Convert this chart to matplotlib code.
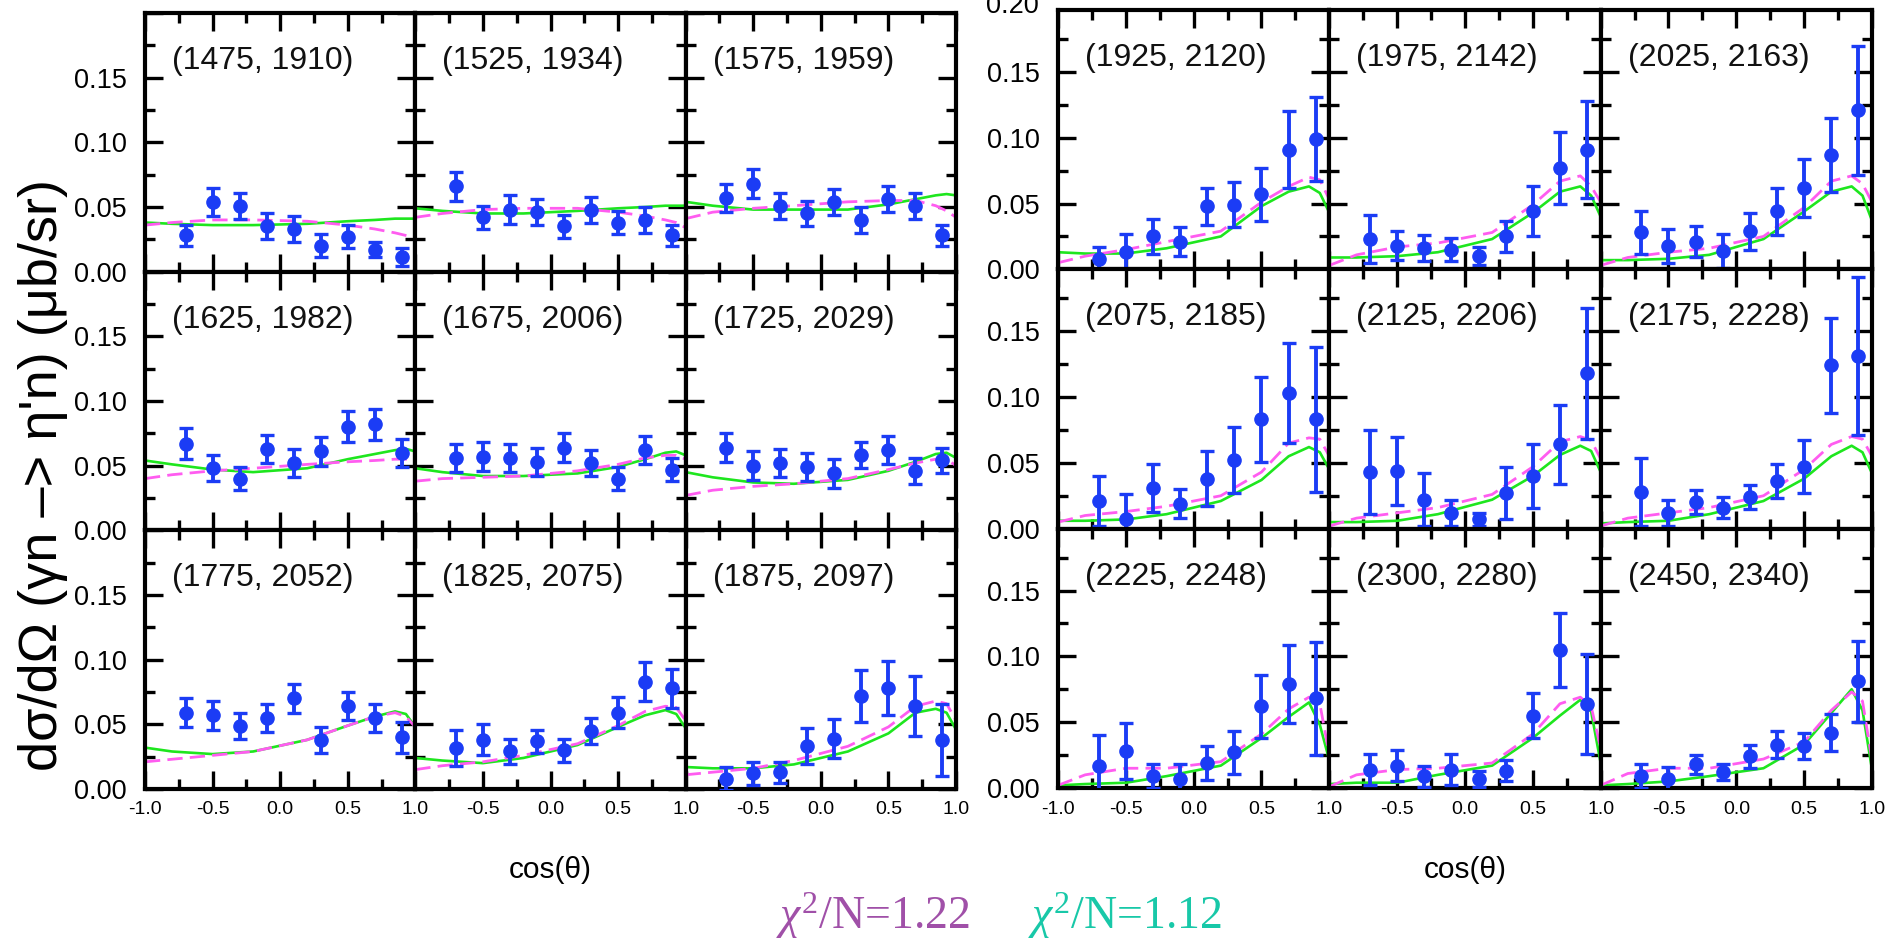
import matplotlib
matplotlib.use('Agg')
import matplotlib.pyplot as plt
from matplotlib import font_manager
from matplotlib.ticker import MultipleLocator, FixedLocator

# ---------------- data ----------------
PANEL_LABELS = [
    "(1475, 1910)", "(1525, 1934)", "(1575, 1959)",
    "(1625, 1982)", "(1675, 2006)", "(1725, 2029)",
    "(1775, 2052)", "(1825, 2075)", "(1875, 2097)",
    "(1925, 2120)", "(1975, 2142)", "(2025, 2163)",
    "(2075, 2185)", "(2125, 2206)", "(2175, 2228)",
    "(2225, 2248)", "(2300, 2280)", "(2450, 2340)",
]

PT_X = [-0.7, -0.5, -0.3, -0.1, 0.1, 0.3, 0.5, 0.7, 0.9]

Y_DATA = [
    [0.028, 0.054, 0.051, 0.035, 0.033, 0.020, 0.027, 0.017, 0.011],
    [0.066, 0.042, 0.048, 0.046, 0.035, 0.048, 0.038, 0.040, 0.028],
    [0.057, 0.068, 0.051, 0.045, 0.054, 0.040, 0.056, 0.051, 0.028],
    [0.067, 0.048, 0.040, 0.063, 0.052, 0.061, 0.080, 0.082, 0.060],
    [0.056, 0.057, 0.056, 0.053, 0.064, 0.052, 0.040, 0.062, 0.047],
    [0.064, 0.050, 0.052, 0.049, 0.044, 0.058, 0.062, 0.046, 0.054],
    [0.059, 0.057, 0.049, 0.055, 0.070, 0.038, 0.064, 0.055, 0.040],
    [0.032, 0.038, 0.029, 0.037, 0.030, 0.045, 0.059, 0.083, 0.078],
    [0.008, 0.012, 0.013, 0.033, 0.039, 0.072, 0.078, 0.064, 0.038],
    [0.008, 0.013, 0.025, 0.021, 0.048, 0.049, 0.057, 0.091, 0.099],
    [0.023, 0.018, 0.016, 0.015, 0.010, 0.025, 0.044, 0.077, 0.091],
    [0.028, 0.018, 0.021, 0.014, 0.029, 0.044, 0.062, 0.087, 0.121],
    [0.021, 0.007, 0.031, 0.019, 0.038, 0.052, 0.083, 0.103, 0.083],
    [0.043, 0.044, 0.022, 0.012, 0.007, 0.027, 0.040, 0.064, 0.118],
    [0.028, 0.012, 0.020, 0.016, 0.024, 0.036, 0.047, 0.124, 0.131],
    [0.017, 0.028, 0.009, 0.007, 0.019, 0.027, 0.062, 0.079, 0.068],
    [0.014, 0.017, 0.009, 0.014, 0.007, 0.013, 0.055, 0.105, 0.064],
    [0.009, 0.007, 0.018, 0.012, 0.024, 0.033, 0.032, 0.042, 0.081],
]

Y_ERR = [
    [0.008, 0.011, 0.010, 0.010, 0.010, 0.009, 0.009, 0.006, 0.007],
    [0.011, 0.009, 0.011, 0.010, 0.009, 0.010, 0.009, 0.010, 0.008],
    [0.011, 0.011, 0.010, 0.010, 0.010, 0.010, 0.010, 0.010, 0.008],
    [0.012, 0.010, 0.009, 0.011, 0.011, 0.011, 0.012, 0.012, 0.011],
    [0.011, 0.011, 0.011, 0.011, 0.011, 0.010, 0.009, 0.011, 0.009],
    [0.011, 0.011, 0.011, 0.011, 0.011, 0.010, 0.011, 0.010, 0.010],
    [0.011, 0.011, 0.010, 0.011, 0.011, 0.010, 0.011, 0.011, 0.012],
    [0.014, 0.012, 0.010, 0.009, 0.009, 0.010, 0.012, 0.015, 0.015],
    [0.009, 0.009, 0.008, 0.014, 0.015, 0.020, 0.021, 0.023, 0.028],
    [0.009, 0.014, 0.013, 0.011, 0.014, 0.017, 0.020, 0.029, 0.032],
    [0.018, 0.011, 0.010, 0.009, 0.007, 0.012, 0.019, 0.027, 0.037],
    [0.016, 0.013, 0.012, 0.013, 0.014, 0.018, 0.022, 0.028, 0.049],
    [0.019, 0.019, 0.018, 0.011, 0.021, 0.025, 0.032, 0.038, 0.055],
    [0.032, 0.026, 0.020, 0.010, 0.005, 0.020, 0.024, 0.030, 0.050],
    [0.026, 0.010, 0.009, 0.008, 0.009, 0.013, 0.020, 0.036, 0.060],
    [0.023, 0.021, 0.009, 0.011, 0.013, 0.016, 0.024, 0.030, 0.043],
    [0.012, 0.012, 0.008, 0.012, 0.006, 0.008, 0.017, 0.028, 0.038],
    [0.009, 0.009, 0.007, 0.006, 0.009, 0.010, 0.010, 0.014, 0.031],
]

CURVE_X = [-1.0, -0.8, -0.5, -0.2, 0.2, 0.5, 0.7, 0.85, 0.93, 1.0]

GREEN_CURVES = [
    [0.038, 0.037, 0.036, 0.036, 0.037, 0.039, 0.040, 0.041, 0.041, 0.041],
    [0.049, 0.047, 0.045, 0.045, 0.047, 0.049, 0.050, 0.051, 0.051, 0.051],
    [0.054, 0.051, 0.048, 0.048, 0.048, 0.052, 0.056, 0.059, 0.060, 0.059],
    [0.054, 0.051, 0.047, 0.045, 0.048, 0.055, 0.059, 0.062, 0.063, 0.061],
    [0.048, 0.045, 0.042, 0.042, 0.044, 0.049, 0.055, 0.060, 0.061, 0.058],
    [0.045, 0.041, 0.037, 0.036, 0.039, 0.046, 0.053, 0.059, 0.060, 0.056],
    [0.032, 0.029, 0.027, 0.029, 0.038, 0.049, 0.056, 0.060, 0.058, 0.048],
    [0.024, 0.022, 0.020, 0.024, 0.034, 0.048, 0.057, 0.061, 0.058, 0.047],
    [0.017, 0.016, 0.016, 0.019, 0.029, 0.043, 0.059, 0.062, 0.059, 0.046],
    [0.013, 0.012, 0.012, 0.016, 0.025, 0.048, 0.059, 0.063, 0.058, 0.043],
    [0.009, 0.009, 0.010, 0.013, 0.023, 0.043, 0.059, 0.063, 0.056, 0.040],
    [0.007, 0.007, 0.008, 0.011, 0.023, 0.044, 0.059, 0.063, 0.056, 0.037],
    [0.006, 0.006, 0.007, 0.011, 0.021, 0.037, 0.055, 0.062, 0.058, 0.045],
    [0.005, 0.005, 0.006, 0.011, 0.022, 0.040, 0.056, 0.063, 0.059, 0.043],
    [0.004, 0.005, 0.006, 0.011, 0.021, 0.038, 0.055, 0.063, 0.058, 0.042],
    [0.002, 0.003, 0.004, 0.009, 0.017, 0.038, 0.054, 0.065, 0.048, 0.021],
    [0.003, 0.004, 0.004, 0.010, 0.017, 0.038, 0.055, 0.067, 0.058, 0.019],
    [0.002, 0.003, 0.005, 0.009, 0.015, 0.033, 0.057, 0.075, 0.059, 0.014],
]

MAGENTA_CURVES = [
    [0.036, 0.038, 0.040, 0.040, 0.039, 0.036, 0.033, 0.030, 0.028, 0.026],
    [0.042, 0.045, 0.048, 0.049, 0.049, 0.046, 0.043, 0.040, 0.038, 0.034],
    [0.041, 0.046, 0.049, 0.051, 0.054, 0.055, 0.055, 0.051, 0.047, 0.042],
    [0.040, 0.043, 0.046, 0.048, 0.051, 0.053, 0.054, 0.055, 0.055, 0.054],
    [0.038, 0.040, 0.041, 0.042, 0.046, 0.051, 0.056, 0.058, 0.058, 0.055],
    [0.027, 0.031, 0.034, 0.036, 0.040, 0.047, 0.052, 0.055, 0.055, 0.050],
    [0.021, 0.023, 0.026, 0.029, 0.038, 0.049, 0.056, 0.059, 0.056, 0.048],
    [0.015, 0.018, 0.021, 0.026, 0.035, 0.049, 0.060, 0.064, 0.063, 0.053],
    [0.011, 0.013, 0.016, 0.022, 0.033, 0.048, 0.064, 0.068, 0.066, 0.053],
    [0.005, 0.010, 0.015, 0.021, 0.029, 0.051, 0.063, 0.070, 0.068, 0.053],
    [0.003, 0.011, 0.017, 0.020, 0.028, 0.049, 0.067, 0.071, 0.063, 0.051],
    [0.003, 0.009, 0.013, 0.016, 0.025, 0.047, 0.067, 0.071, 0.065, 0.051],
    [0.005, 0.010, 0.013, 0.017, 0.025, 0.043, 0.065, 0.069, 0.068, 0.055],
    [0.002, 0.008, 0.012, 0.016, 0.026, 0.047, 0.066, 0.070, 0.067, 0.053],
    [0.002, 0.008, 0.012, 0.016, 0.025, 0.045, 0.064, 0.070, 0.068, 0.055],
    [0.002, 0.010, 0.015, 0.015, 0.020, 0.041, 0.060, 0.069, 0.064, 0.025],
    [0.001, 0.010, 0.014, 0.015, 0.019, 0.041, 0.064, 0.069, 0.062, 0.030],
    [0.002, 0.011, 0.015, 0.015, 0.022, 0.035, 0.059, 0.073, 0.066, 0.021],
]

X_TICKS = [-1.0, -0.5, 0.0, 0.5, 1.0]
X_TICK_LABELS = ["-1.0", "-0.5", "0.0", "0.5", "1.0"]
Y_TICKS = [0.0, 0.05, 0.10, 0.15]
Y_TICK_LABELS = ["0.00", "0.05", "0.10", "0.15"]
Y_LABEL = "d\u03c3/d\u03a9 (\u03b3n \u2013> \u03b7'n) (\u03bcb/sr)"
X_LABEL = "cos(\u03b8)"
CHI_TEXTS = [r"$\chi^2$/N=1.22", r"$\chi^2$/N=1.12"]

# ---------------- style ----------------
W, H = 1902, 939
BLUE = "#1b3cf5"
GREEN = "#1ee61e"
MAGENTA = "#ff5cf0"
PURPLE = "#a050a8"
TEAL = "#18c8a8"

names = {f.name for f in font_manager.fontManager.ttflist}
SANS = "Liberation Sans" if "Liberation Sans" in names else "DejaVu Sans"
SERIF = "Liberation Serif" if "Liberation Serif" in names else "DejaVu Serif"

plt.rcParams["font.family"] = [SANS, "DejaVu Sans"]
plt.rcParams["mathtext.fontset"] = "custom"
plt.rcParams["mathtext.rm"] = SERIF
plt.rcParams["mathtext.it"] = SERIF + ":italic"

fig = plt.figure(figsize=(W / 100, H / 100), dpi=100)

GRIDS = [
    (145, 13, 956, 789, 0.200),   # x0, top, x1, bottom (px), ymax
    (1058, 10, 1872, 788, 0.197),
]

for g, (gx0, gtop, gx1, gbot, ymax) in enumerate(GRIDS):
    pw = (gx1 - gx0) / 3.0
    ph = (gbot - gtop) / 3.0
    for k in range(9):
        idx = g * 9 + k
        r, c = divmod(k, 3)
        left = gx0 + c * pw
        top = gtop + r * ph
        ax = fig.add_axes([left / W, 1 - (top + ph) / H, pw / W, ph / H])
        ax.set_xlim(-1, 1)
        ax.set_ylim(0, ymax)

        ax.plot(CURVE_X, GREEN_CURVES[idx], color=GREEN, lw=1.9, zorder=2)
        ax.plot(CURVE_X, MAGENTA_CURVES[idx], color=MAGENTA, lw=2.0,
                ls=(0, (5.5, 2.6)), zorder=2)
        ax.errorbar(PT_X, Y_DATA[idx], yerr=Y_ERR[idx], fmt="o", color=BLUE,
                    ms=9.5, elinewidth=2.8, capsize=4.8, capthick=2.4, zorder=3)

        ax.text(27 / pw, 1 - 48 / ph, PANEL_LABELS[idx], transform=ax.transAxes,
                fontsize=23, ha="left", va="center", color="#111111")

        for s in ax.spines.values():
            s.set_linewidth(3.0)
        ax.xaxis.set_major_locator(FixedLocator(X_TICKS))
        ax.xaxis.set_minor_locator(MultipleLocator(0.25))
        ax.yaxis.set_major_locator(FixedLocator(Y_TICKS + [0.20]))
        ax.yaxis.set_minor_locator(MultipleLocator(0.025))
        ax.tick_params(which="both", direction="in", top=True, right=True,
                       width=2.4)
        ax.tick_params(which="major", length=13)
        ax.tick_params(which="minor", length=7)

        if c == 0:
            ax.set_yticklabels(Y_TICK_LABELS + [""])
            ax.tick_params(axis="y", labelsize=19.5, pad=13)
        else:
            ax.set_yticklabels([])
        if r == 2:
            labs = list(X_TICK_LABELS)
            if c != 0:
                labs[0] = ""
            ax.set_xticklabels(labs)
            ax.tick_params(axis="x", labelsize=14, pad=9)
        else:
            ax.set_xticklabels([])

        if g == 1 and k == 0:
            ax.text(-19 / pw, 0.2, "0.20", transform=ax.get_yaxis_transform(),
                    ha="right", va="center", fontsize=19.5, clip_on=False)

    fig.text(((gx0 + gx1) / 2) / W, 1 - 870 / H, X_LABEL, fontsize=21.5,
             ha="center", va="center")

fig.text(43 / W, 1 - 475 / H, Y_LABEL, rotation=90, fontsize=39,
         ha="center", va="center")

fig.text(776 / W, 1 - 916 / H, CHI_TEXTS[0], color=PURPLE, fontsize=33,
         ha="left", va="center", family=SERIF)
fig.text(1028 / W, 1 - 916 / H, CHI_TEXTS[1], color=TEAL, fontsize=33,
         ha="left", va="center", family=SERIF)

fig.savefig("out.png", dpi=100)
